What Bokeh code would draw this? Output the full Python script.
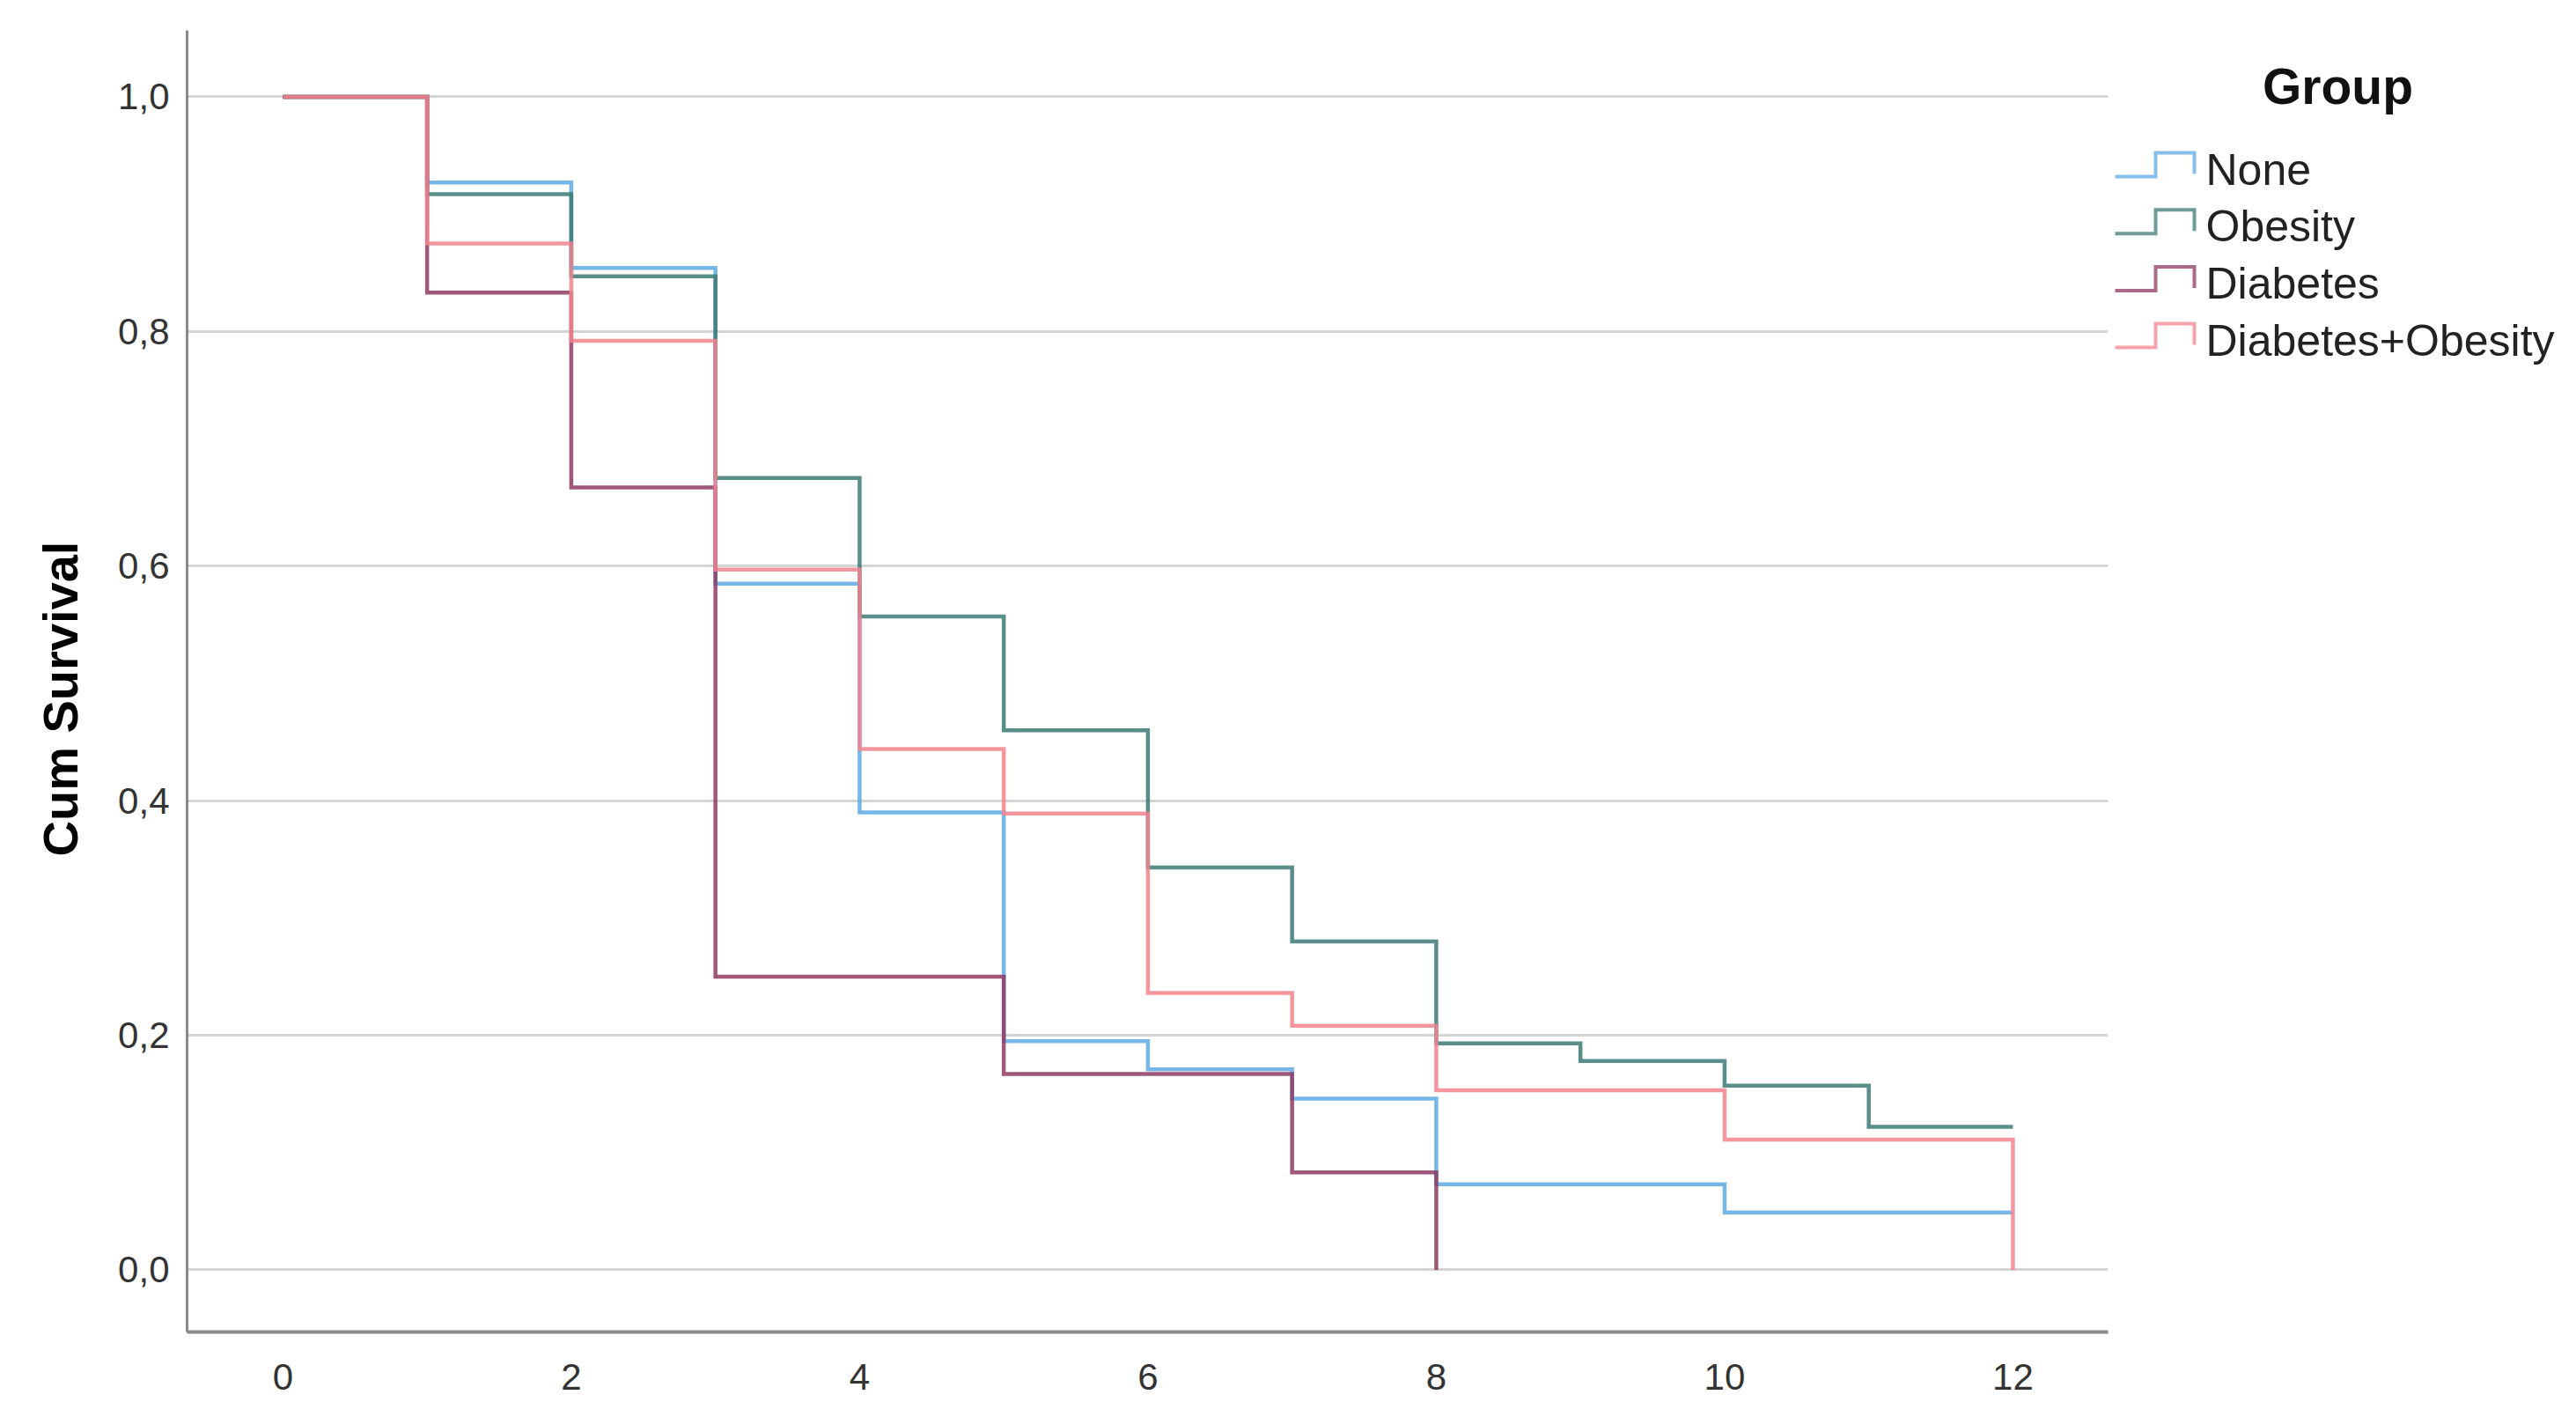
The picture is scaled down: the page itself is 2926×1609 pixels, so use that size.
from bokeh.plotting import figure
from bokeh.layouts import row
from bokeh.models import Range1d, FixedTicker, CustomJSTickFormatter, Title
from bokeh.core.properties import value
from bokeh.embed import file_html
from bokeh.resources import INLINE

# ---- data ----
groups = ["None", "Obesity", "Diabetes", "Diabetes+Obesity"]
colors = ["#5eaae4", "#3c7a74", "#8e3a63", "#f2848d"]

none_t = [0, 1, 2, 3, 4, 5, 6, 7, 8, 10, 12]
none_s = [1.0, 0.927, 0.854, 0.585, 0.390, 0.195, 0.171, 0.146, 0.073, 0.049, 0.049]

obes_t = [0, 1, 2, 3, 4, 5, 6, 7, 8, 9, 10, 11, 12]
obes_s = [1.0, 0.917, 0.847, 0.675, 0.557, 0.460, 0.343, 0.280, 0.193, 0.178, 0.157, 0.122, 0.122]

diab_t = [0, 1, 2, 3, 5, 7, 8]
diab_s = [1.0, 0.833, 0.667, 0.250, 0.167, 0.083, 0.0]

dobe_t = [0, 1, 2, 3, 4, 5, 6, 7, 8, 10, 12]
dobe_s = [1.0, 0.875, 0.792, 0.597, 0.444, 0.389, 0.236, 0.208, 0.153, 0.111, 0.0]

x_ticks = [0, 2, 4, 6, 8, 10, 12]
y_ticks = [0.0, 0.2, 0.4, 0.6, 0.8, 1.0]

series = [(none_t, none_s), (obes_t, obes_s), (diab_t, diab_s), (dobe_t, dobe_s)]

FONT = "Liberation Sans"
H = 1600
TOP = 34
BOTTOM = 88

# ---- main plot ----
MAIN_W = 2398
p = figure(width=MAIN_W, height=H,
           x_range=Range1d(-0.665, 12.66), y_range=Range1d(-0.053, 1.0566),
           output_backend="svg", toolbar_location=None,
           min_border_left=212, min_border_right=4,
           min_border_top=TOP, min_border_bottom=BOTTOM)
p.outline_line_color = None
p.background_fill_color = "white"
p.border_fill_color = "white"

p.xgrid.visible = False
p.ygrid.ticker = FixedTicker(ticks=y_ticks)
p.ygrid.grid_line_color = "#d4d4d4"
p.ygrid.grid_line_width = 3

p.xaxis.ticker = FixedTicker(ticks=x_ticks)
p.yaxis.ticker = FixedTicker(ticks=y_ticks)
p.yaxis.formatter = CustomJSTickFormatter(code="return tick.toFixed(1).replace('.', ',');")

for ax in (p.xaxis, p.yaxis):
    ax.major_tick_out = 0
    ax.major_tick_in = 0
    ax.minor_tick_out = 0
    ax.minor_tick_in = 0
    ax.axis_line_color = "#8a8a8a"
    ax.major_label_text_font = FONT
    ax.major_label_text_font_size = "42px"
    ax.major_label_text_color = "#333333"

p.xaxis.axis_line_width = 4
p.yaxis.axis_line_width = 3
p.xaxis.major_label_standoff = 36
p.yaxis.major_label_standoff = 20

# y-axis title as a left-side Title, anchored at the bottom and nudged up
ytitle = Title(text="Cum Survival", align="left", offset=540, standoff=64,
               text_font=FONT, text_font_style="bold", text_font_size="56px",
               text_color="#000000")
p.add_layout(ytitle, "left")

for (t, s), c in zip(series, colors):
    p.step(t, s, mode="after", line_color=c, line_width=4.5, line_alpha=0.85,
           line_join="miter")

# ---- legend panel (coordinates in page pixels) ----
LW = 520
p2 = figure(width=LW, height=H,
            x_range=Range1d(MAIN_W, MAIN_W + LW), y_range=Range1d(H - BOTTOM, TOP),
            output_backend="svg", toolbar_location=None,
            x_axis_location=None, y_axis_location=None,
            min_border_left=0, min_border_right=0,
            min_border_top=TOP, min_border_bottom=BOTTOM)
p2.outline_line_color = None
p2.xgrid.visible = False
p2.ygrid.visible = False

p2.text(x=[2655], y=[97], text=["Group"], text_font=value(FONT), text_font_style="bold",
        text_font_size="57px", text_align="center", text_baseline="middle",
        text_color="#111111")

row0 = 192
dy = 64.7
x0, xm, x1, xt = 2402, 2448, 2492, 2505
for i, (g, c) in enumerate(zip(groups, colors)):
    cy = row0 + dy * i
    p2.line([x0, xm, xm, x1, x1], [cy + 8, cy + 8, cy - 19, cy - 19, cy + 5],
            line_color=c, line_width=4, line_alpha=0.75, line_join="miter")
    p2.text(x=[xt], y=[cy], text=[g], text_font=value(FONT), text_font_size="50px",
            text_align="left", text_baseline="middle", text_color="#222222")

layout = row(p, p2)
open("out.html", "w").write(file_html(layout, INLINE))
